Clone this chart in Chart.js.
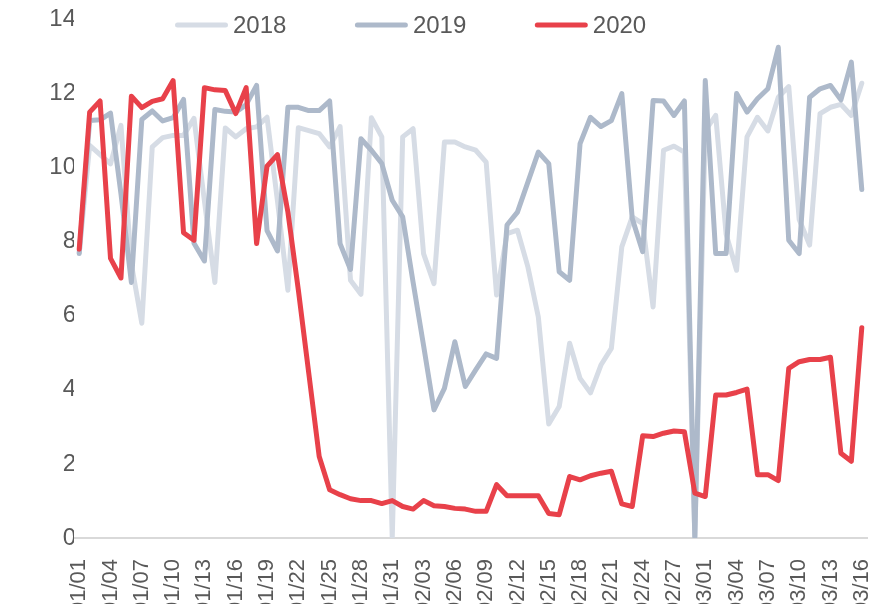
<!DOCTYPE html>
<html>
<head>
<meta charset="utf-8">
<script src="https://cdn.jsdelivr.net/npm/chart.js@4.4.1/dist/chart.umd.min.js"></script>
<style>
  html, body { margin: 0; padding: 0; background: #ffffff; overflow: hidden; }
  #wrap { width: 894px; height: 604px; }
</style>
</head>
<body>
<div id="wrap"><canvas id="c" width="894" height="604"></canvas></div>
<script>
const dates = [
  '01/01','01/02','01/03','01/04','01/05','01/06','01/07','01/08','01/09','01/10',
  '01/11','01/12','01/13','01/14','01/15','01/16','01/17','01/18','01/19','01/20',
  '01/21','01/22','01/23','01/24','01/25','01/26','01/27','01/28','01/29','01/30',
  '01/31','02/01','02/02','02/03','02/04','02/05','02/06','02/07','02/08','02/09',
  '02/10','02/11','02/12','02/13','02/14','02/15','02/16','02/17','02/18','02/19',
  '02/20','02/21','02/22','02/23','02/24','02/25','02/26','02/27','02/28','02/29',
  '03/01','03/02','03/03','03/04','03/05','03/06','03/07','03/08','03/09','03/10',
  '03/11','03/12','03/13','03/14','03/15','03/16'
];

const seriesNames = ['2018', '2019', '2020'];

const values2018 = [
  7.7, 10.6, 10.35, 10.1, 11.14, 7.4, 5.8, 10.56, 10.81, 10.87,
  10.87, 11.33, 9.1, 6.9, 11.07, 10.83, 11.05, 11.1, 11.36, 9.1,
  6.69, 11.08, 11.0, 10.92, 10.56, 11.11, 6.96, 6.58, 11.35, 10.83,
  0, 10.83, 11.05, 7.68, 6.87, 10.69, 10.69, 10.56, 10.47, 10.15,
  6.56, 8.22, 8.31, 7.32, 5.97, 3.08, 3.55, 5.26, 4.31, 3.92,
  4.67, 5.12, 7.86, 8.67, 8.49, 6.24, 10.47, 10.58, 10.42, 0,
  11.0, 11.41, 8.2, 7.23, 10.83, 11.36, 10.99, 11.9, 12.19, 8.6,
  7.91, 11.46, 11.63, 11.71, 11.41, 12.28
];

const values2019 = [
  7.68, 11.27, 11.29, 11.47, 9.3, 6.9, 11.3, 11.53, 11.26, 11.35,
  11.84, 7.96, 7.48, 11.57, 11.52, 11.5, 11.7, 12.22, 8.3, 7.75,
  11.63, 11.63, 11.54, 11.54, 11.8, 7.95, 7.25, 10.78, 10.47, 10.11,
  9.12, 8.67, 6.9, 5.2, 3.46, 4.04, 5.3, 4.09, 4.54, 4.97,
  4.85, 8.45, 8.8, 9.61, 10.42, 10.11, 7.19, 6.96, 10.65, 11.36,
  11.11, 11.27, 12.0, 8.63, 7.73, 11.81, 11.8, 11.41, 11.8, 0,
  12.35, 7.68, 7.68, 12.0, 11.5, 11.86, 12.13, 13.25, 8.04, 7.68,
  11.9, 12.13, 12.22, 11.83, 12.85, 9.41
];

const values2020 = [
  7.8, 11.5, 11.8, 7.55, 7.02, 11.93, 11.62, 11.79, 11.86, 12.35,
  8.24, 8.04, 12.16, 12.1, 12.08, 11.46, 12.16, 7.95, 10.04, 10.35,
  8.8, 6.7, 4.45, 2.2, 1.3, 1.17, 1.06, 1.01, 1.01, 0.93,
  1.01, 0.85, 0.78, 1.01, 0.87, 0.85, 0.8, 0.78, 0.72, 0.72,
  1.44, 1.14, 1.14, 1.14, 1.14, 0.66, 0.63, 1.66, 1.57, 1.68,
  1.75, 1.8, 0.92, 0.85, 2.76, 2.74, 2.83, 2.89, 2.87, 1.21,
  1.12, 3.86, 3.86, 3.93, 4.02, 1.71, 1.71, 1.55, 4.58, 4.76,
  4.82, 4.82, 4.88, 2.29, 2.07, 5.68
];

const yTicks = [0, 2, 4, 6, 8, 10, 12, 14];

const FONT = '"Liberation Sans", Arial, sans-serif';
const TEXT = '#595959';

const lineLegend = {
  id: 'lineLegend',
  afterDraw(chart, args, opts) {
    const ctx = chart.ctx;
    ctx.save();
    ctx.font = opts.fontSize + 'px ' + FONT;
    ctx.textBaseline = 'middle';
    ctx.textAlign = 'left';
    let x = opts.startX;
    chart.data.datasets.forEach(ds => {
      ctx.strokeStyle = ds.borderColor;
      ctx.lineWidth = ds.borderWidth;
      ctx.lineCap = 'round';
      ctx.beginPath();
      ctx.moveTo(x, opts.y);
      ctx.lineTo(x + opts.lineLen, opts.y);
      ctx.stroke();
      x += opts.lineLen + opts.gap;
      ctx.fillStyle = TEXT;
      ctx.fillText(ds.label, x, opts.y + 1);
      x += ctx.measureText(ds.label).width + opts.itemGap;
    });
    ctx.restore();
  }
};

function mkSet(label, data, color, order) {
  return {
    label, data,
    borderColor: color,
    backgroundColor: color,
    borderWidth: 5,
    borderJoinStyle: 'round',
    borderCapStyle: 'round',
    pointRadius: 0,
    pointHoverRadius: 0,
    tension: 0,
    fill: false,
    order
  };
}

new Chart(document.getElementById('c'), {
  type: 'line',
  data: {
    labels: dates,
    datasets: [
      mkSet(seriesNames[0], values2018, '#D6DCE5', 2),
      mkSet(seriesNames[1], values2019, '#ADB9CA', 1),
      mkSet(seriesNames[2], values2020, '#E8414A', 0)
    ]
  },
  options: {
    responsive: false,
    animation: false,
    devicePixelRatio: 1,
    layout: { padding: { top: 19.5, right: 27, bottom: 0, left: 0 } },
    plugins: {
      legend: { display: false },
      tooltip: { enabled: false },
      lineLegend: { startX: 177.5, y: 25, lineLen: 48, gap: 7.5, itemGap: 71, fontSize: 24 }
    },
    scales: {
      x: {
        offset: true,
        grid: { display: false, drawTicks: false, tickLength: 0 },
        border: { display: true, color: '#D9D9D9', width: 2 },
        ticks: {
          autoSkip: false,
          minRotation: 90,
          maxRotation: 90,
          padding: 21,
          color: TEXT,
          font: { size: 22, family: FONT },
          callback: function (v, i) { return i % 3 === 0 ? dates[i] : null; }
        },
        afterFit: s => { s.height = 66; s.paddingLeft = 0; s.paddingRight = 0; }
      },
      y: {
        min: 0,
        max: 14,
        grid: { display: false, drawTicks: false, tickLength: 0 },
        border: { display: false },
        afterBuildTicks: s => { s.ticks = yTicks.map(v => ({ value: v })); },
        ticks: {
          padding: -2,
          color: TEXT,
          font: { size: 24, family: FONT }
        },
        afterFit: s => { s.width = 74; }
      }
    }
  },
  plugins: [lineLegend]
});
</script>
</body>
</html>
